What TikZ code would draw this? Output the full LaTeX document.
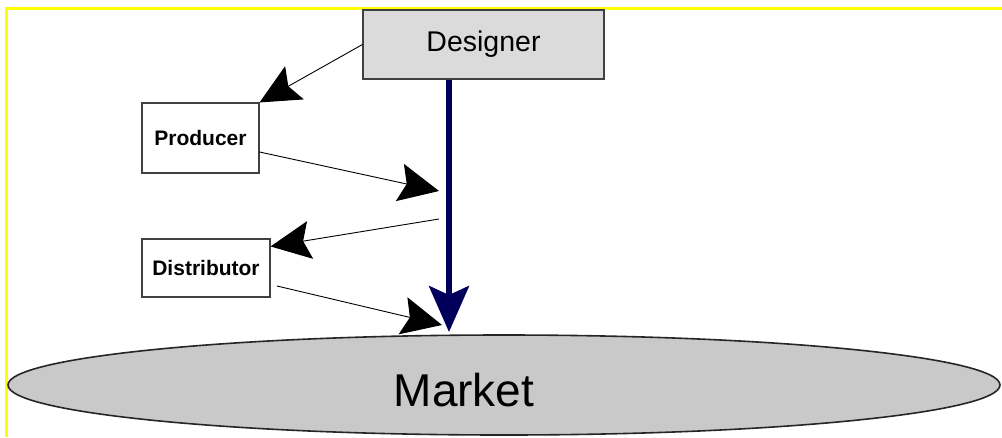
\documentclass[tikz,border=0pt]{standalone}
\usepackage{fontspec}
\setmainfont{Liberation Sans}
\usetikzlibrary{arrows.meta}
\definecolor{framey}{RGB}{255,255,0}
\definecolor{flownavy}{RGB}{0,0,90}

\begin{document}
\begin{tikzpicture}[x=1pt,y=-1pt,
    box/.style={draw=black!75,line width=1.1pt,inner sep=0pt},
    flow/.style={line width=0.9pt,-{Stealth[length=40pt,width=38pt,inset=7pt]}},
    mainflow/.style={flownavy,line width=5.5pt,-{Stealth[length=46pt,width=40pt,inset=9pt]}}]
                    \useasboundingbox (0,0) rectangle (1002,437);
                    \draw[framey,line width=3pt] (1002,8.7) -- (6,8.7) -- (6,437);
                    \draw[black!85,line width=1.6pt,fill=black!21] (504,385) ellipse [x radius=496,y radius=50];
                    \node (market) at (464,390) {\fontsize{46}{50}\selectfont Market};
                    \node[box,fill=black!14,minimum width=241pt,minimum height=69pt] (designer) at (483.5,44.5) {\fontsize{28.5}{32}\selectfont Designer\hspace{10pt}};
                    \node[box,minimum width=117pt,minimum height=70pt] (producer) at (200.5,138) {\fontsize{21}{24}\selectfont\bfseries Producer};
                    \node[box,minimum width=128pt,minimum height=58pt] (distributor) at (206,268) {\fontsize{21}{24}\selectfont\bfseries Distributor};
                    \coordinate (p1) at (439,191);
                    \coordinate (p2) at (439,219);
                    \coordinate (m1) at (442,325);
                    \coordinate (m0) at (449,332);
                    \coordinate (d1) at (277,286);
                    \draw[flow] (designer.west) -- (producer.north east);
                    \draw[flow] ([yshift=-14pt]producer.east) -- (p1);
                    \draw[flow] (p2) -- ([yshift=-8pt]distributor.north east);
                    \draw[flow] (d1) -- (m1);
                    \draw[mainflow] ([xshift=-34.5pt]designer.south) -- (m0);
                \end{tikzpicture}
\end{document}
